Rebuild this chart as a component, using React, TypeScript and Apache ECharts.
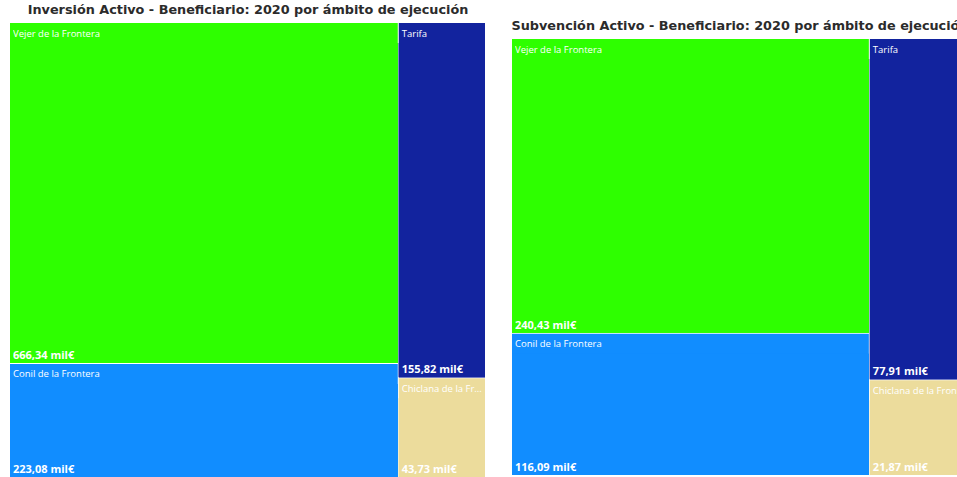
import React, { useEffect, useRef } from "react";
import * as echarts from "echarts";

const cities = ["Vejer de la Frontera", "Conil de la Frontera", "Tarifa", "Chiclana de la Frontera"];
const inversion = [666.34, 223.08, 155.82, 43.73];
const subvencion = [240.43, 116.09, 77.91, 21.87];
const cityColors = ["#2EFF00", "#118DFF", "#12239E", "#ECDC9C"];
const groups = [[0, 1], [2, 3]];
const titles = [
  "Inversión Activo - Beneficiario: 2020 por ámbito de ejecución",
  "Subvención Activo - Beneficiario: 2020 por ámbito de ejecución",
];

const fmt = (v: number) => v.toFixed(2).replace(".", ",") + " mil€";

function buildData(values: number[]) {
  return groups.map((g, gi) => ({
    name: "grupo" + gi,
    children: g.map((i) => ({
      name: cities[i],
      value: values[i],
      itemStyle: { borderColor: cityColors[i] },
      children: [
        {
          name: cities[i],
          value: values[i],
          itemStyle: { color: cityColors[i], borderColor: cityColors[i] },
        },
      ],
    })),
  }));
}

function makeSeries(
  values: number[],
  box: { left: number; top: number; width: number; height: number },
  nameOverflow: string
) {
  return {
    type: "treemap",
    ...box,
    roam: false,
    nodeClick: false,
    silent: true,
    sort: "desc",
    drillDownIcon: "",
    breadcrumb: { show: false },
    visibleMin: 0,
    emphasis: { disabled: true },
    data: buildData(values),
    levels: [
      { itemStyle: { borderWidth: 0, gapWidth: 1, borderColor: "#ffffff" } },
      { itemStyle: { borderWidth: 0, gapWidth: 1, borderColor: "#ffffff" }, upperLabel: { show: false } },
      {
        itemStyle: { borderWidth: 0, gapWidth: 0 },
        upperLabel: {
          show: true,
          height: 20,
          color: "#ffffff",
          fontFamily: "Open Sans",
          fontSize: 9.5,
          padding: [0, 0, 0, 3],
          overflow: nameOverflow,
          ellipsis: "...",
        },
      },
      {
        itemStyle: { borderWidth: 0, gapWidth: 0 },
        label: {
          show: true,
          position: "insideBottomLeft",
          distance: 0,
          padding: [0, 0, 3, 3],
          color: "#ffffff",
          fontFamily: "Open Sans",
          fontWeight: "bold",
          fontSize: 11,
          formatter: (p: any) => fmt(p.value),
        },
      },
    ],
  };
}

export default function App() {
  const ref = useRef<HTMLDivElement>(null);
  useEffect(() => {
    if (!ref.current) return;
    const chart = echarts.init(ref.current, null, { renderer: "svg" });
    const titleStyle = { fontFamily: "DejaVu Sans", fontWeight: "bold", fontSize: 12.8, color: "#2b2b2b" };
    chart.setOption({
      animation: false,
      backgroundColor: "#ffffff",
      title: [
        { text: titles[0], left: 248, top: 3, padding: 0, textAlign: "center", textStyle: titleStyle },
        { text: titles[1], left: 740, top: 19, padding: 0, textAlign: "center", textStyle: titleStyle },
      ],
      series: [
        makeSeries(inversion, { left: 10, top: 23, width: 475, height: 454 }, "truncate"),
        makeSeries(subvencion, { left: 512, top: 39, width: 457, height: 436 }, "none"),
      ],
    });
    return () => chart.dispose();
  }, []);
  return (
    <div
      ref={ref}
      style={{ position: "fixed", left: 0, top: 0, width: 957, height: 477, overflow: "hidden" }}
    />
  );
}
